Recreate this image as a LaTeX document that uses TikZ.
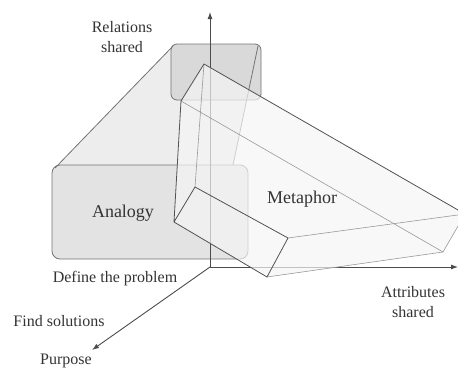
\documentclass[tikz,border=0pt]{standalone}
\usepackage{fontspec}
\setmainfont{Liberation Serif}
\usetikzlibrary{arrows.meta}

\begin{document}
\begin{tikzpicture}[x=1pt, y=-1pt, >=Latex,
  axis/.style={-{Latex[length=7pt,width=5pt]}, line width=0.9pt, draw=black!70},
  anaface/.style={draw=black!55, line width=0.8pt, rounded corners=8pt},
  anaedge/.style={draw=black!55, line width=0.8pt},
  metedge/.style={draw=black!68, line width=0.8pt, line join=round},
  metfaint/.style={draw=black!40, line width=0.6pt},
  lbl/.style={font=\fontsize{16}{20}\selectfont, text=black!80, align=center},
  biglbl/.style={font=\fontsize{18}{21}\selectfont, text=black!80}]
\useasboundingbox (0,0) rectangle (458,367);
\clip (0,0) rectangle (458,367);

% axes
\coordinate (O) at (210,267);
\coordinate (rel) at (210,12);
\coordinate (att) at (458,267);
\coordinate (pur) at (92,350);

% analogy box
\coordinate (abTL) at (173,46);
\coordinate (abTR) at (258,46);
\coordinate (afTL) at (55,168);
\coordinate (afTR) at (233,165);
\fill[black!7] (afTL) -- (abTL) -- (abTR) -- (afTR) -- cycle;
\filldraw[fill=black!15, anaface, rounded corners=6pt] (171,44) rectangle (261,100);
\filldraw[fill=black!11, anaface] (52,165) rectangle (248,259);
\draw[anaedge] (afTL) -- (abTL);
\draw[anaedge] (abTR) -- (afTR);

\draw[axis] (O) -- (rel);
\draw[axis] (O) -- (att);
\draw[axis] (O) -- (pur);

% metaphor prism
\coordinate (mA) at (204,64);
\coordinate (mB) at (181,101);
\coordinate (mC) at (174,222);
\coordinate (mD) at (195,187);
\coordinate (mG) at (465,214);
\coordinate (mF) at (443,252);
\coordinate (mE) at (267,277);
\coordinate (mH) at (288,238);
\fill[black!4, fill opacity=0.7] (mA) -- (mG) -- (mF) -- (mE) -- (mC) -- (mB) -- cycle;
\draw[metfaint] (mA) -- (mD);
\draw[metfaint] (mB) -- (mF);
\draw[metfaint] (mH) -- (mG);
\draw[metfaint] (mE) -- (mF) -- (mG);
\draw[metedge] (mG) -- (mA) -- (mB) -- (mC) -- (mD) -- (mH) -- (mE) -- (mC);

\node[lbl] (relL) at (122,37) {Relations\\shared};
\node[biglbl] (anaL) at (123,213) {Analogy};
\node[biglbl] (metL) at (302,199) {Metaphor};
\node[lbl] (defL) at (115,279) {Define the problem};
\node[lbl] (finL) at (59,321) {Find solutions};
\node[lbl] (purL) at (66,361) {Purpose};
\node[lbl] (attL) at (413,302) {Attributes\\shared};
\end{tikzpicture}
\end{document}
